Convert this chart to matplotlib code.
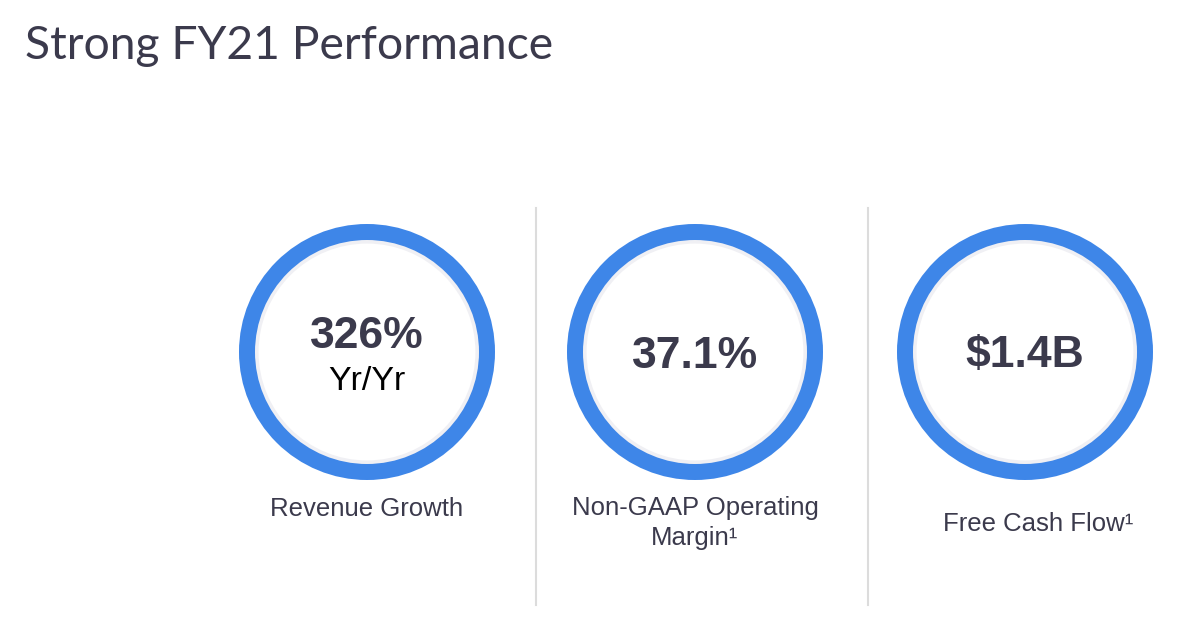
import matplotlib
matplotlib.use("Agg")
import matplotlib.pyplot as plt
from matplotlib.patches import Circle

title = "Strong FY21 Performance"
values = ["326%", "37.1%", "$1.4B"]
sublabels = ["Yr/Yr", "", ""]
labels = ["Revenue Growth", "Non-GAAP Operating\nMargin¹", "Free Cash Flow¹"]

centers_x = [367, 695, 1025]
label_x = [367, 695, 1038]
label_y = [509, 523, 524]
center_y = 352
radius = 120
ring_w = 16
dividers_x = [536, 868]

dark = "#3b3a4c"
blue = "#3e86e8"

fig = plt.figure(figsize=(12, 6.26), dpi=100)
ax = fig.add_axes([0, 0, 1, 1])
ax.set_xlim(0, 1200)
ax.set_ylim(626, 0)
ax.axis("off")

fig.text(25 / 1200, 1 - 46 / 626, title, fontsize=33.3, color=dark,
         family="Lato", va="center", ha="left")

for dx in dividers_x:
    ax.plot([dx, dx], [208, 605], color="#dcdcdc", lw=1.5)

for i, cx in enumerate(centers_x):
    # soft inner shadow
    ax.add_patch(Circle((cx, center_y), radius - ring_w / 2 - 1.5, fill=False,
                        lw=3, edgecolor="#f0f0f4", zorder=1))
    ax.add_patch(Circle((cx, center_y), radius, fill=False, lw=ring_w * 0.72,
                        edgecolor=blue, zorder=2))
    if sublabels[i]:
        ax.text(cx, 336, values[i], ha="center", va="center", fontsize=32,
                fontweight="bold", color=dark, family="Liberation Sans")
        ax.text(cx, 381, sublabels[i], ha="center", va="center", fontsize=24.5,
                color="black", family="Liberation Sans")
    else:
        ax.text(cx, 356, values[i], ha="center", va="center", fontsize=32,
                fontweight="bold", color=dark, family="Liberation Sans")

lab_kw = dict(ha="center", va="center", fontsize=18.5, color=dark,
              family="Liberation Sans")
for i, lab in enumerate(labels):
    ax.text(label_x[i], label_y[i], lab, linespacing=1.32, **lab_kw)

fig.savefig("out.png", dpi=100, facecolor="white")
